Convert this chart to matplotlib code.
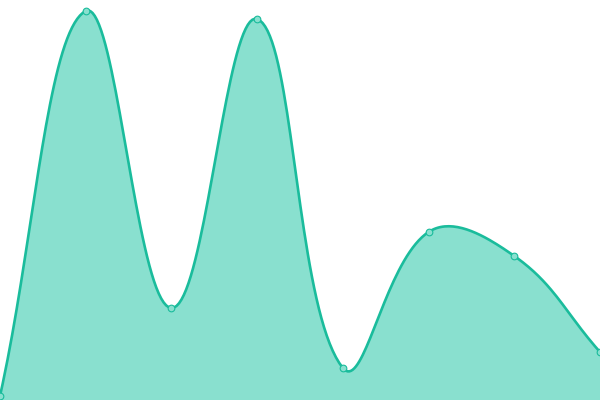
import numpy as np
import matplotlib
matplotlib.use("Agg")
import matplotlib.pyplot as plt

# valores (altura sobre el fondo, escala 0-400)
positions = [0, 1, 2, 3, 4, 5, 6, 7]
values = [4, 389, 92, 381, 32, 168, 144, 48]

line_color = "#1abc9c"
fill_color = "#89e0cf"
tension = 0.4


def spline_path(px, py, t=0.4, n=40):
    # curva cubica tipo Chart.js (puntos de control por tension)
    pts = np.column_stack([px, py])
    cps_prev, cps_next = [], []
    for i in range(len(pts)):
        cur = pts[i]
        prev = pts[i - 1] if i > 0 else cur
        nxt = pts[i + 1] if i < len(pts) - 1 else cur
        d01 = np.hypot(*(cur - prev))
        d12 = np.hypot(*(nxt - cur))
        tot = d01 + d12
        s01 = d01 / tot if tot else 0
        s12 = d12 / tot if tot else 0
        cps_prev.append(cur - t * s01 * (nxt - prev))
        cps_next.append(cur + t * s12 * (nxt - prev))
    out = []
    u = np.linspace(0, 1, n)[:, None]
    for i in range(len(pts) - 1):
        p0, p1, p2, p3 = pts[i], cps_next[i], cps_prev[i + 1], pts[i + 1]
        seg = ((1 - u) ** 3) * p0 + 3 * ((1 - u) ** 2) * u * p1 + 3 * (1 - u) * u ** 2 * p2 + u ** 3 * p3
        out.append(seg if i == 0 else seg[1:])
    return np.vstack(out)


fig = plt.figure(figsize=(6, 4), dpi=100)
ax = fig.add_axes([0, 0, 1, 1])
ax.set_xlim(0, 7)
ax.set_ylim(0, 400)
ax.axis("off")

# la curva se calcula en pixeles, como lo hace la libreria original
disp = ax.transData.transform(np.column_stack([positions, values]))
curve_disp = spline_path(disp[:, 0], disp[:, 1], tension)
curve = ax.transData.inverted().transform(curve_disp)
curve[:, 1] = np.clip(curve[:, 1], 0, 400)

ax.fill_between(curve[:, 0], curve[:, 1], 0, color=fill_color, linewidth=0)
ax.plot(curve[:, 0], curve[:, 1], color=line_color, linewidth=1.9,
        solid_capstyle="round", clip_on=False)
ax.plot(positions, values, linestyle="none", marker="o", markersize=4.8,
        markerfacecolor=fill_color, markeredgecolor=line_color,
        markeredgewidth=0.8, clip_on=False)

fig.savefig("out.png", dpi=100)
